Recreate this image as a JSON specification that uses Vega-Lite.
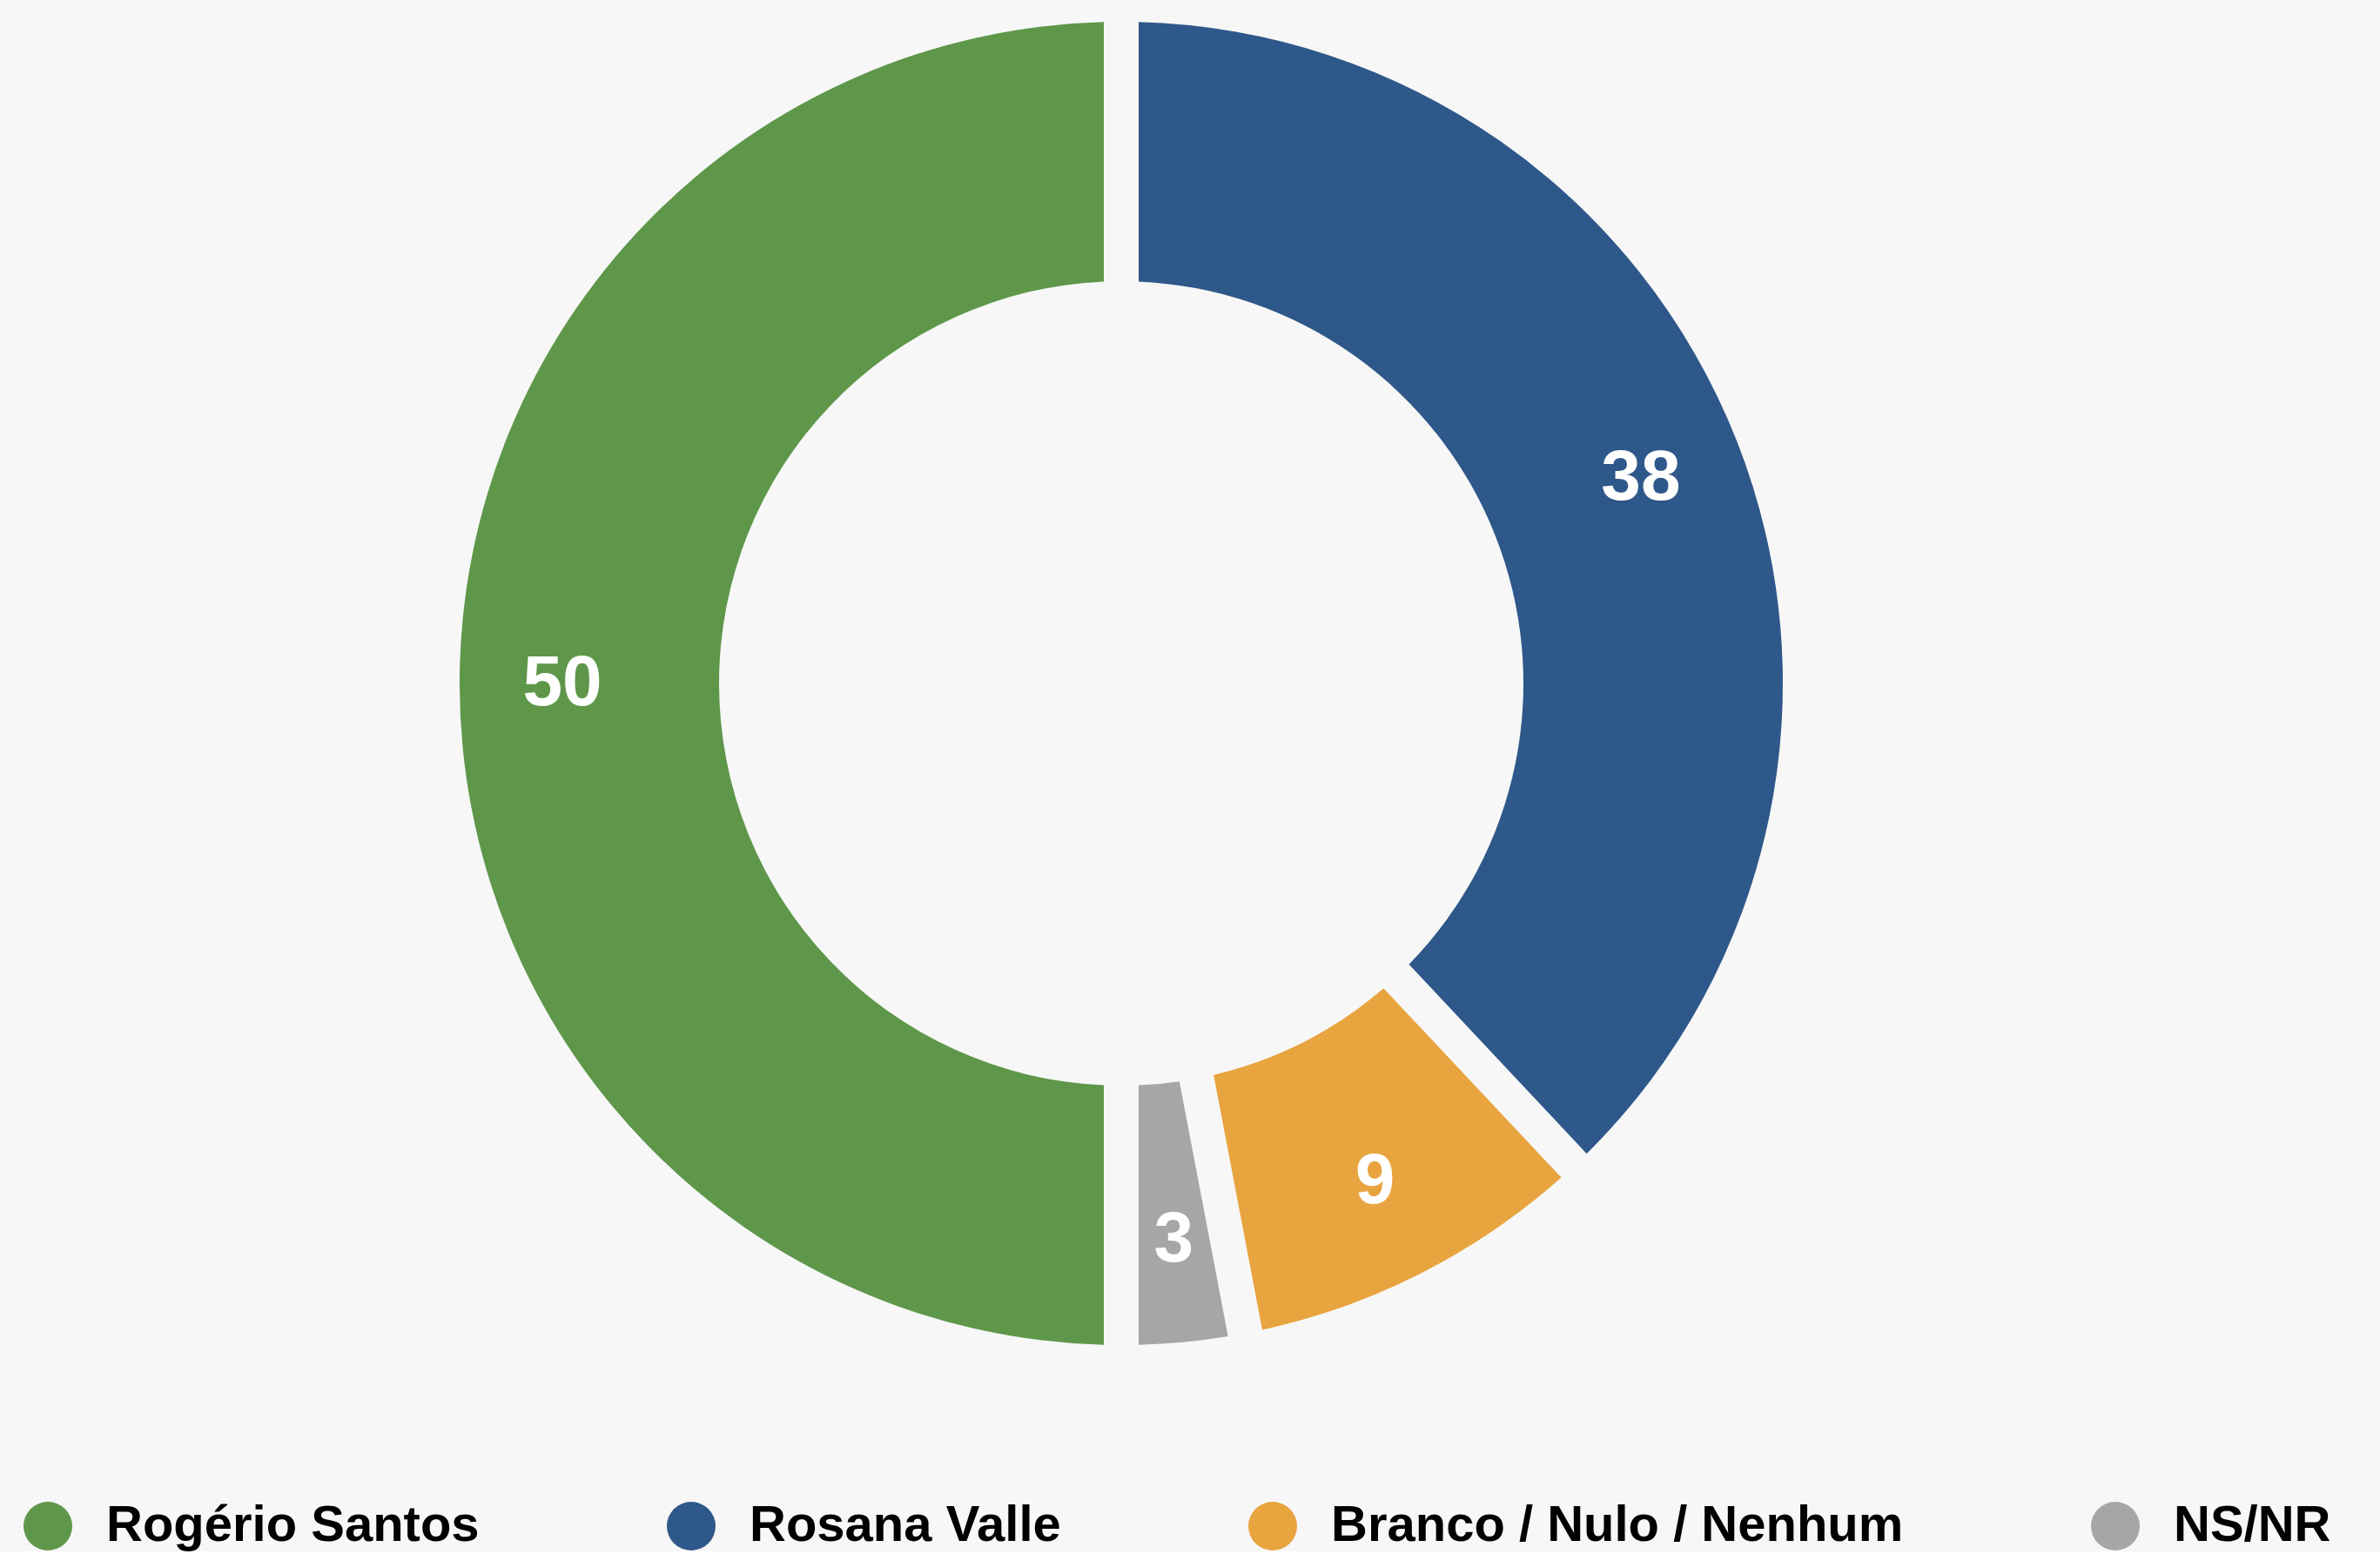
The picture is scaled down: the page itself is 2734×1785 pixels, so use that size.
{
  "$schema": "https://vega.github.io/schema/vega-lite/v6.json",
  "width": 2576,
  "height": 1570,
  "padding": {"left": 0, "top": 0, "right": 158, "bottom": 0},
  "autosize": {"type": "pad"},
  "background": "#f7f7f7",
  "config": {"view": {"stroke": null}},
  "data": {
    "values": [
      {"candidato": "Rosana Valle", "valor": 38, "ordem": 1},
      {"candidato": "Branco / Nulo / Nenhum", "valor": 9, "ordem": 2},
      {"candidato": "NS/NR", "valor": 3, "ordem": 3},
      {"candidato": "Rogério Santos", "valor": 50, "ordem": 4}
    ]
  },
  "encoding": {
    "theta": {"field": "valor", "type": "quantitative", "stack": true},
    "order": {"field": "ordem", "type": "quantitative"}
  },
  "layer": [
    {
      "mark": {"type": "arc", "outerRadius": 760, "innerRadius": 462, "padAngle": 0.045},
      "encoding": {
        "color": {
          "field": "candidato",
          "type": "nominal",
          "scale": {
            "domain": ["Rogério Santos", "Rosana Valle", "Branco / Nulo / Nenhum", "NS/NR"],
            "range": ["#5e974a", "#2e5889", "#e8a43f", "#a6a6a6"]
          },
          "legend": {
            "title": null,
            "orient": "none",
            "legendX": 26,
            "legendY": 1724,
            "direction": "horizontal",
            "columns": 4,
            "columnPadding": 214,
            "symbolType": "circle",
            "symbolSize": 3136,
            "symbolStrokeWidth": 0,
            "symbolOpacity": 1,
            "labelFont": "Liberation Sans",
            "labelFontWeight": "bold",
            "labelFontSize": 58,
            "labelColor": "#000000",
            "labelOffset": 38,
            "labelLimit": 2000,
            "padding": 0
          }
        }
      }
    },
    {
      "mark": {
        "type": "text",
        "radius": 642,
        "font": "Liberation Sans",
        "fontWeight": "bold",
        "fontSize": 82,
        "color": "#ffffff",
        "align": "center",
        "baseline": "middle"
      },
      "encoding": {
        "text": {"field": "valor", "type": "quantitative"}
      }
    }
  ]
}
